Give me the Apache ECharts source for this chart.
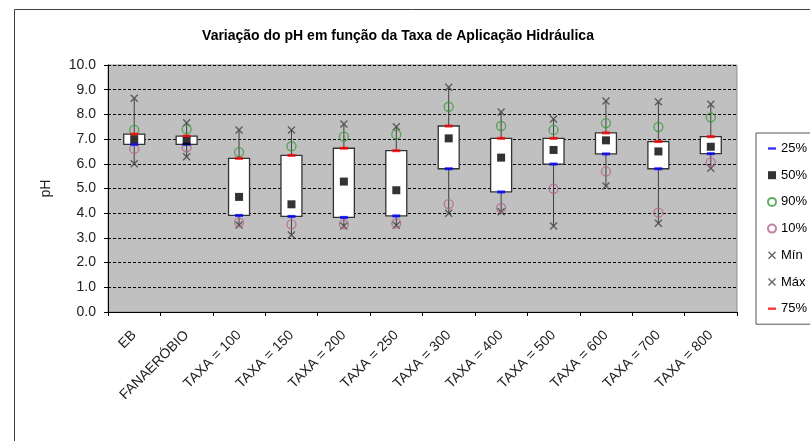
<!DOCTYPE html>
<html>
<head>
<meta charset="utf-8">
<script src="https://cdn.jsdelivr.net/npm/echarts@6/dist/echarts.min.js"></script>
<style>html,body{margin:0;padding:0;background:#fff;}#c{width:810px;height:441px;}</style>
</head>
<body>
<div id="c"></div>
<script>
const categories = ['EB','FANAERÓBIO','TAXA = 100','TAXA = 150','TAXA = 200','TAXA = 250','TAXA = 300','TAXA = 400','TAXA = 500','TAXA = 600','TAXA = 700','TAXA = 800'];
const p25 = [6.79, 6.79, 3.91, 3.87, 3.83, 3.89, 5.80, 4.86, 5.99, 6.40, 5.80, 6.41];
const p50 = [6.99, 6.92, 4.66, 4.36, 5.28, 4.93, 7.03, 6.25, 6.56, 6.95, 6.50, 6.69];
const p75 = [7.20, 7.12, 6.22, 6.34, 6.63, 6.53, 7.53, 7.03, 7.03, 7.25, 6.90, 7.10];
const p90 = [7.37, 7.40, 6.47, 6.71, 7.10, 7.19, 8.31, 7.53, 7.37, 7.65, 7.49, 7.88];
const p10 = [6.60, 6.67, 3.63, 3.55, 3.56, 3.59, 4.37, 4.21, 4.99, 5.69, 4.02, 6.06];
const minV = [6.00, 6.29, 3.52, 3.12, 3.48, 3.51, 4.00, 4.06, 3.48, 5.10, 3.59, 5.82];
const maxV = [8.65, 7.66, 7.37, 7.37, 7.61, 7.50, 9.10, 8.10, 7.81, 8.54, 8.51, 8.41];
const yTicks = [0,1,2,3,4,5,6,7,8,9,10];

const FONT = '"Liberation Sans", Arial, sans-serif';
const XPATH = 'path://M0,1L1,0L4,3L7,0L8,1L5,4L8,7L7,8L4,5L1,8L0,7L3,4Z';
const DASH = 'path://M0,0M8,8M0,2.8h8v2.4h-8z';

const boxData = categories.map((c, i) => [i, p25[i], p75[i], minV[i], maxV[i]]);
const pts = arr => arr.map((v, i) => [i, v]);

const chart = echarts.init(document.getElementById('c'), null, {renderer: 'canvas'});
chart.setOption({
  animation: false,
  backgroundColor: '#fff',
  textStyle: {fontFamily: FONT},
  title: {
    text: 'Variação do pH em função da Taxa de Aplicação Hidráulica',
    left: 393, top: 24, textAlign: 'center',
    textStyle: {fontFamily: FONT, fontSize: 14, fontWeight: 'bold', color: '#000'}
  },
  graphic: [{
    type: 'rect', silent: true, z: -1,
    shape: {x: 14.5, y: 9.5, width: 900, height: 500},
    style: {fill: 'none', stroke: '#404040', lineWidth: 1}
  }],
  legend: {
    orient: 'vertical', left: 756, top: 133,
    padding: [8, 40, 8, 11],
    borderColor: '#555', borderWidth: 1, backgroundColor: '#fff',
    itemWidth: 8, itemHeight: 8, itemGap: 11.7,
    textStyle: {fontFamily: FONT, fontSize: 13, color: '#000', lineHeight: 15},
    data: [
      {name: '25%', icon: DASH},
      {name: '50%', icon: 'rect'},
      {name: '90%', icon: 'circle'},
      {name: '10%', icon: 'circle'},
      {name: 'Mín', icon: XPATH},
      {name: 'Máx', icon: XPATH},
      {name: '75%', icon: DASH}
    ]
  },
  grid: {
    left: 108, top: 65, right: 73, bottom: 129,
    show: true, backgroundColor: '#c0c0c0', borderColor: '#909090', borderWidth: 1
  },
  xAxis: {
    type: 'category', data: categories, boundaryGap: true,
    axisLine: {lineStyle: {color: '#000', width: 1}},
    axisTick: {show: true, length: 4, lineStyle: {color: '#000'}},
    axisLabel: {rotate: 45, interval: 0, fontFamily: FONT, fontSize: 14, color: '#222', margin: 21},
    splitLine: {show: false}
  },
  yAxis: {
    type: 'value', min: yTicks[0], max: yTicks[yTicks.length - 1], interval: 1,
    name: 'pH', nameLocation: 'middle', nameGap: 55,
    nameTextStyle: {fontFamily: FONT, fontSize: 14, color: '#222'},
    axisLine: {show: true, lineStyle: {color: '#000', width: 1}},
    axisTick: {show: true, length: 4, lineStyle: {color: '#000'}},
    axisLabel: {fontFamily: FONT, fontSize: 14, color: '#222', margin: 12, formatter: v => v.toFixed(1)},
    splitLine: {show: true, lineStyle: {color: '#000', type: [3, 2], width: 1}}
  },
  series: [
    {
      type: 'custom', name: 'box', data: boxData,
      renderItem: function (params, api) {
        const x = api.value(0);
        const lo = api.coord([x, api.value(1)]);
        const hi = api.coord([x, api.value(2)]);
        const mn = api.coord([x, api.value(3)]);
        const mx = api.coord([x, api.value(4)]);
        const w = api.size([1, 0])[0] * 0.4;
        return {type: 'group', children: [
          {type: 'line', shape: {x1: mn[0], y1: mn[1], x2: mx[0], y2: mx[1]}, style: {stroke: '#404040', lineWidth: 1}},
          {type: 'rect', shape: {x: lo[0] - w / 2, y: hi[1], width: w, height: lo[1] - hi[1]}, style: {fill: '#fff', stroke: '#333', lineWidth: 1.3}}
        ]};
      },
      encode: {x: 0, y: [1, 2, 3, 4]},
      z: 1
    },
    {type: 'scatter', name: 'Mín', data: pts(minV), symbol: XPATH, symbolSize: 8, itemStyle: {color: '#444'}, z: 3},
    {type: 'scatter', name: 'Máx', data: pts(maxV), symbol: XPATH, symbolSize: 8, itemStyle: {color: '#444'}, z: 3},
    {type: 'scatter', name: '90%', data: pts(p90), symbol: 'circle', symbolSize: 9, itemStyle: {color: 'rgba(0,0,0,0)', borderColor: '#3a9a3a', borderWidth: 1.3}, z: 3},
    {type: 'scatter', name: '10%', data: pts(p10), symbol: 'circle', symbolSize: 9, itemStyle: {color: 'rgba(0,0,0,0)', borderColor: '#b4628c', borderWidth: 1.3}, z: 3},
    {type: 'scatter', name: '25%', data: pts(p25), symbol: 'rect', symbolSize: [8, 3], itemStyle: {color: '#0000ff'}, z: 4},
    {type: 'scatter', name: '75%', data: pts(p75), symbol: 'rect', symbolSize: [8, 3], itemStyle: {color: '#ff0000'}, z: 4},
    {type: 'scatter', name: '50%', data: pts(p50), symbol: 'rect', symbolSize: 8, itemStyle: {color: '#000'}, z: 5}
  ]
});
</script>
</body>
</html>
